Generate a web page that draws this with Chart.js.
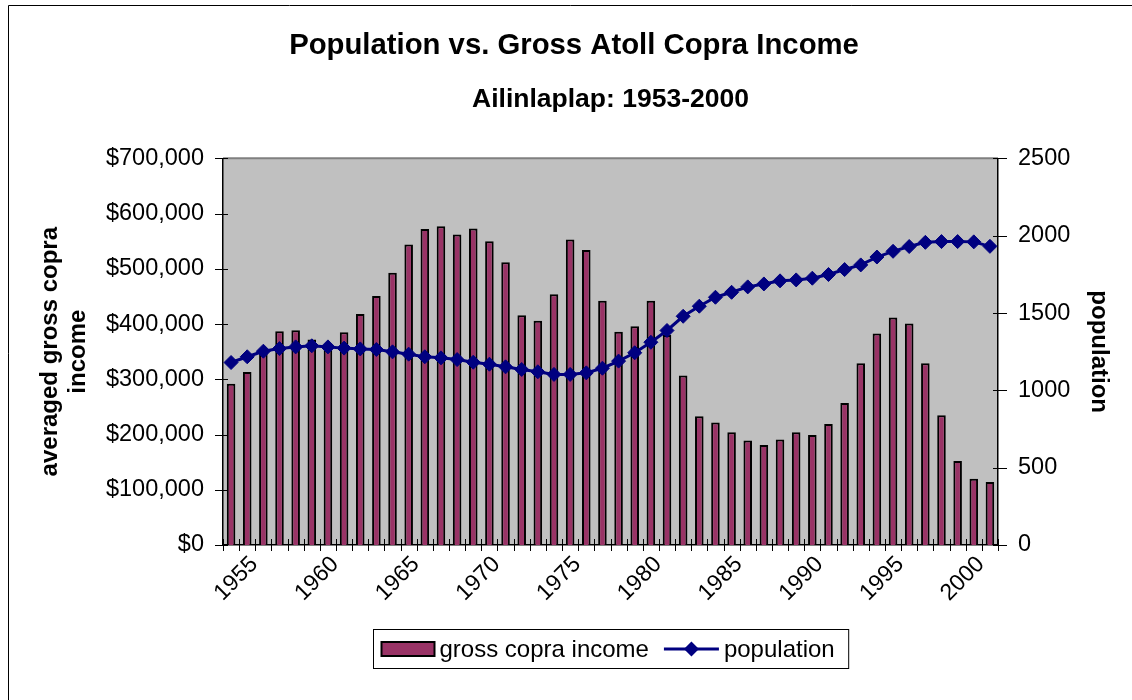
<!DOCTYPE html>
<html lang="en">
<head>
<meta charset="UTF-8">
<title>Population vs. Gross Atoll Copra Income</title>
<script src="https://cdn.jsdelivr.net/npm/chart.js"></script>
<style>
  html, body { margin: 0; padding: 0; background: #fff; }
  #chart { display: block; }
</style>
</head>
<body>
<canvas id="chart" width="1132" height="700"></canvas>
<script>
const years = [
  1953, 1954, 1955, 1956, 1957, 1958, 1959, 1960, 1961, 1962, 1963, 1964,
  1965, 1966, 1967, 1968, 1969, 1970, 1971, 1972, 1973, 1974, 1975, 1976,
  1977, 1978, 1979, 1980, 1981, 1982, 1983, 1984, 1985, 1986, 1987, 1988,
  1989, 1990, 1991, 1992, 1993, 1994, 1995, 1996, 1997, 1998, 1999, 2000
];

// averaged gross copra income, dollars
const copraIncome = [
  292000, 313000, 350000, 387000, 389000, 372000, 355000, 385000, 418000, 451000, 493000, 544000,
  572000, 577000, 562000, 573000, 550000, 512000, 416000, 406000, 454000, 553000, 534000, 442000,
  386000, 396000, 442000, 380000, 307000, 233000, 222000, 204000, 189000, 181000, 191000, 204000,
  199000, 219000, 257000, 329000, 383000, 412000, 401000, 329000, 235000, 152000, 120000, 114000
];

const population = [
  1180, 1217, 1253, 1270, 1281, 1288, 1281, 1273, 1268, 1264, 1249, 1234,
  1217, 1210, 1199, 1182, 1169, 1152, 1135, 1120, 1103, 1103, 1113, 1143,
  1189, 1243, 1311, 1387, 1479, 1544, 1602, 1634, 1669, 1688, 1708, 1714,
  1725, 1749, 1781, 1811, 1862, 1899, 1930, 1957, 1962, 1962, 1960, 1931
];

const incomeRange = [0, 700000, 100000];   // min, max, step
const popRange = [0, 2500, 500];

const subtitleText = 'Ailinlaplap: 1953-2000';

const FONT = "'Liberation Sans', Arial, sans-serif";
const BAR_COLOR = '#993366';
const LINE_COLOR = '#000080';

Chart.defaults.font.family = FONT;
Chart.defaults.color = '#000';

// page frame, grey plot area, subtitle over the plot, cross tick marks and the boxed legend
const excelLook = {
  id: 'excelLook',
  beforeDraw(chart) {
    const { ctx, chartArea: a } = chart;
    ctx.save();
    ctx.strokeStyle = '#000';
    ctx.lineWidth = 1;
    ctx.beginPath();
    ctx.moveTo(8.5, chart.height + 5);
    ctx.lineTo(8.5, 5.5);
    ctx.lineTo(chart.width + 5, 5.5);
    ctx.stroke();

    ctx.fillStyle = '#c0c0c0';
    ctx.fillRect(a.left, a.top, a.right - a.left, a.bottom - a.top);
    ctx.strokeStyle = '#808080';
    ctx.lineWidth = 2;
    ctx.beginPath();
    ctx.moveTo(a.left, a.top);
    ctx.lineTo(a.right, a.top);
    ctx.stroke();

    ctx.fillStyle = '#000';
    ctx.font = 'bold 26.5px ' + FONT;
    ctx.textAlign = 'center';
    ctx.textBaseline = 'middle';
    ctx.fillText(subtitleText, (a.left + a.right) / 2, 99.5);
    ctx.restore();
  },
  beforeDatasetsDraw(chart) {
    const { ctx, chartArea: a, scales } = chart;
    ctx.save();
    ctx.strokeStyle = '#000';
    ctx.lineWidth = 1;
    ctx.beginPath();
    for (let i = 0; i <= years.length; i++) {
      const x = Math.round(scales.x.getPixelForValue(i - 0.5)) + 0.5;
      ctx.moveTo(x, a.bottom - 6);
      ctx.lineTo(x, a.bottom + 6);
    }
    scales.y.ticks.forEach(t => {
      const y = Math.round(scales.y.getPixelForValue(t.value)) + 0.5;
      ctx.moveTo(a.left - 8, y);
      ctx.lineTo(a.left + 5, y);
    });
    scales.y1.ticks.forEach(t => {
      const y = Math.round(scales.y1.getPixelForValue(t.value)) + 0.5;
      ctx.moveTo(a.right - 5, y);
      ctx.lineTo(a.right + 9, y);
    });
    ctx.stroke();
    ctx.restore();
  },
  afterDraw(chart) {
    const { ctx, chartArea: a } = chart;
    const bars = chart.data.datasets[1];
    const line = chart.data.datasets[0];
    ctx.save();
    ctx.font = '24px ' + FONT;
    ctx.textBaseline = 'middle';
    const w1 = ctx.measureText(bars.label).width;
    const w2 = ctx.measureText(line.label).width;
    const boxW = 8 + 53 + 5 + w1 + 15 + 55 + 5 + w2 + 14;
    const boxH = 39;
    const left = Math.round((a.left + a.right) / 2 - boxW / 2) + 0.5;
    const top = 629.5;
    const cy = top + boxH / 2;

    ctx.fillStyle = '#fff';
    ctx.fillRect(left, top, boxW, boxH);
    ctx.strokeStyle = '#000';
    ctx.lineWidth = 1;
    ctx.strokeRect(left, top, boxW, boxH);

    let x = left + 8;
    ctx.fillStyle = bars.backgroundColor;
    ctx.fillRect(x, cy - 7, 53, 14);
    ctx.lineWidth = 2;
    ctx.strokeRect(x, cy - 7, 53, 14);
    x += 53 + 5;
    ctx.fillStyle = '#000';
    ctx.fillText(bars.label, x, cy + 1);
    x += w1 + 15;

    ctx.strokeStyle = line.borderColor;
    ctx.lineWidth = 3;
    ctx.beginPath();
    ctx.moveTo(x, cy);
    ctx.lineTo(x + 55, cy);
    ctx.stroke();
    ctx.fillStyle = line.borderColor;
    ctx.beginPath();
    ctx.moveTo(x + 27.5, cy - 7.5);
    ctx.lineTo(x + 35, cy);
    ctx.lineTo(x + 27.5, cy + 7.5);
    ctx.lineTo(x + 20, cy);
    ctx.closePath();
    ctx.fill();
    x += 55 + 5;
    ctx.fillStyle = '#000';
    ctx.fillText(line.label, x, cy + 1);
    ctx.restore();
  }
};

new Chart(document.getElementById('chart'), {
  type: 'bar',
  data: {
    labels: years.map(String),
    datasets: [
      {
        type: 'line',
        label: 'population',
        data: population,
        yAxisID: 'y1',
        order: 0,
        borderColor: LINE_COLOR,
        borderWidth: 3,
        tension: 0,
        pointStyle: 'rectRot',
        pointRadius: 7,
        pointBackgroundColor: LINE_COLOR,
        pointBorderColor: LINE_COLOR,
        pointBorderWidth: 1
      },
      {
        type: 'bar',
        label: 'gross copra income',
        data: copraIncome,
        yAxisID: 'y',
        order: 1,
        backgroundColor: BAR_COLOR,
        borderColor: '#000',
        borderWidth: 2,
        barPercentage: 0.53,
        categoryPercentage: 1
      }
    ]
  },
  options: {
    responsive: false,
    animation: false,
    events: [],
    layout: { padding: { left: 16, right: 0, top: 0, bottom: 0 } },
    plugins: {
      legend: { display: false },
      tooltip: { enabled: false },
      title: {
        display: true,
        text: 'Population vs. Gross Atoll Copra Income',
        color: '#000',
        font: { size: 29.3, weight: 'bold' },
        padding: { top: 28.6, bottom: 94.6 }
      }
    },
    scales: {
      x: {
        offset: true,
        grid: { display: false, drawTicks: false },
        border: { display: true, color: '#000', width: 1.5 },
        ticks: {
          autoSkip: false,
          maxRotation: 45,
          minRotation: 45,
          padding: 6,
          labelOffset: -9,
          font: { size: 23 },
          callback: function (value, index) {
            const yr = years[index];
            return yr % 5 === 0 ? String(yr) : '';
          }
        },
        afterFit(scale) { scale.height = 155; }
      },
      y: {
        position: 'left',
        min: incomeRange[0],
        max: incomeRange[1],
        grid: { display: false, drawTicks: false },
        border: { display: true, color: '#000', width: 1.5 },
        ticks: {
          stepSize: incomeRange[2],
          padding: 19,
          font: { size: 23.5 },
          callback: v => '$' + v.toLocaleString('en-US')
        },
        title: {
          display: true,
          text: ['averaged gross copra', 'income'],
          color: '#000',
          font: { size: 24, weight: 'bold', lineHeight: 1.15 },
          padding: { top: 20.5, bottom: 0 }
        },
        afterFit(scale) { scale.width = 207; }
      },
      y1: {
        position: 'right',
        min: popRange[0],
        max: popRange[1],
        grid: { display: false, drawTicks: false },
        border: { display: true, color: '#000', width: 1.5 },
        ticks: {
          stepSize: popRange[2],
          padding: 20,
          font: { size: 23.5 },
          callback: v => String(v)
        },
        title: {
          display: true,
          text: 'population',
          color: '#000',
          font: { size: 24, weight: 'bold', lineHeight: 1.15 },
          padding: { top: 19.5, bottom: 0 }
        },
        afterFit(scale) { scale.width = 134; }
      }
    }
  },
  plugins: [excelLook]
});
</script>
</body>
</html>
